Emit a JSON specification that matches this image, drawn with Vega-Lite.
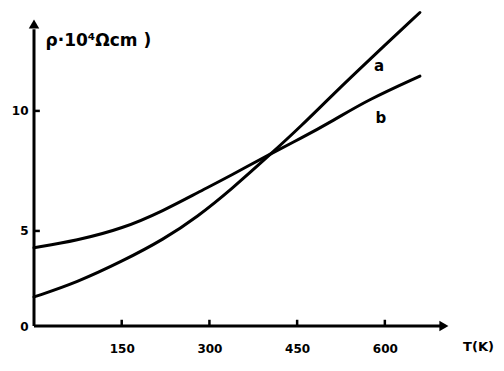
{
  "$schema": "https://vega.github.io/schema/vega-lite/v6.json",
  "width": 414,
  "height": 314,
  "autosize": {"type": "none"},
  "padding": {"left": 34, "top": 12, "right": 56, "bottom": 45},
  "background": "white",
  "config": {
    "view": {"stroke": null},
    "font": "DejaVu Sans",
    "axis": {"domain": false, "grid": false, "ticks": false, "labelFont": "DejaVu Sans", "labelFontWeight": "bold", "labelColor": "black", "titleColor": "black", "titleFont": "DejaVu Sans"}
  },
  "datasets": {
    "curves": [
      {"T": 0, "rho": 2.25, "curve": "a"},
      {"T": 73, "rho": 2.85, "curve": "a"},
      {"T": 152, "rho": 3.75, "curve": "a"},
      {"T": 222, "rho": 4.65, "curve": "a"},
      {"T": 280, "rho": 5.6, "curve": "a"},
      {"T": 336, "rho": 6.7, "curve": "a"},
      {"T": 407, "rho": 8.25, "curve": "a"},
      {"T": 456, "rho": 9.35, "curve": "a"},
      {"T": 512, "rho": 10.7, "curve": "a"},
      {"T": 570, "rho": 12.05, "curve": "a"},
      {"T": 660, "rho": 14.1, "curve": "a"},
      {"T": 0, "rho": 4.3, "curve": "b"},
      {"T": 73, "rho": 4.6, "curve": "b"},
      {"T": 152, "rho": 5.1, "curve": "b"},
      {"T": 222, "rho": 5.85, "curve": "b"},
      {"T": 280, "rho": 6.6, "curve": "b"},
      {"T": 336, "rho": 7.3, "curve": "b"},
      {"T": 407, "rho": 8.25, "curve": "b"},
      {"T": 456, "rho": 8.85, "curve": "b"},
      {"T": 512, "rho": 9.6, "curve": "b"},
      {"T": 570, "rho": 10.45, "curve": "b"},
      {"T": 660, "rho": 11.45, "curve": "b"}
    ],
    "labels": [
      {"T": 590, "rho": 11.87, "curve": "a"},
      {"T": 593, "rho": 9.71, "curve": "b"}
    ],
    "xticks": [{"T": 150}, {"T": 300}, {"T": 450}, {"T": 600}],
    "yticks": [{"rho": 5}, {"rho": 10}],
    "one": [{}]
  },
  "layer": [
    {
      "data": {"name": "curves"},
      "mark": {"type": "line", "color": "black", "strokeWidth": 3, "interpolate": "basis", "strokeCap": "round"},
      "encoding": {
        "x": {"field": "T", "type": "quantitative", "scale": {"domain": [0, 708], "nice": false, "zero": false},
          "axis": {"values": [150, 300, 450, 600], "labelPadding": 17, "labelFontSize": 12, "title": "T(K)", "titleFontSize": 13, "titleFontWeight": "bold", "titleAngle": 0, "titleAlign": "center", "titleBaseline": "middle", "titleX": 444, "titleY": 20}},
        "y": {"field": "rho", "type": "quantitative", "scale": {"domain": [1.04, 14.12], "nice": false, "zero": false},
          "axis": {"values": [1.04, 5, 10], "labelExpr": "datum.value < 2 ? '0' : datum.label", "labelPadding": 6, "labelFontSize": 12, "title": "ρ·10⁴Ωcm  )", "titleFontSize": 17, "titleFontWeight": "bold", "titleAngle": 0, "titleAlign": "left", "titleBaseline": "middle", "titleX": 11, "titleY": 28}},
        "detail": {"field": "curve"}
      }
    },
    {
      "data": {"name": "labels"},
      "mark": {"type": "text", "fontSize": 15, "fontWeight": "bold", "color": "black"},
      "encoding": {
        "x": {"field": "T", "type": "quantitative"},
        "y": {"field": "rho", "type": "quantitative"},
        "text": {"field": "curve"}
      }
    },
    {
      "data": {"name": "xticks"},
      "mark": {"type": "rule", "color": "black", "strokeWidth": 2.5},
      "encoding": {"x": {"field": "T", "type": "quantitative"}, "y": {"datum": 1.04}, "y2": {"datum": 1.3}}
    },
    {
      "data": {"name": "yticks"},
      "mark": {"type": "rule", "color": "black", "strokeWidth": 2.5},
      "encoding": {"y": {"field": "rho", "type": "quantitative"}, "x": {"datum": 0}, "x2": {"datum": 10}}
    },
    {
      "data": {"name": "one"},
      "mark": {"type": "rule", "color": "black", "strokeWidth": 3},
      "encoding": {"x": {"datum": 0}, "y": {"datum": 1.04}, "y2": {"datum": 13.4}}
    },
    {
      "data": {"name": "one"},
      "mark": {"type": "rule", "color": "black", "strokeWidth": 3},
      "encoding": {"x": {"datum": 0}, "x2": {"datum": 698}, "y": {"datum": 1.04}}
    },
    {
      "data": {"name": "one"},
      "mark": {"type": "point", "shape": "triangle-up", "filled": true, "color": "black", "size": 110, "opacity": 1},
      "encoding": {"x": {"datum": 0}, "y": {"datum": 13.62}}
    },
    {
      "data": {"name": "one"},
      "mark": {"type": "point", "shape": "triangle-right", "filled": true, "color": "black", "size": 110, "opacity": 1},
      "encoding": {"x": {"datum": 701}, "y": {"datum": 1.04}}
    }
  ]
}
